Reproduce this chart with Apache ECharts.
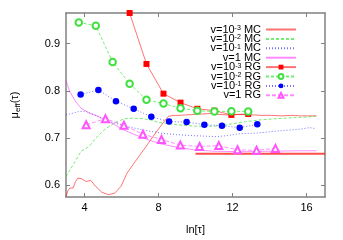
<!DOCTYPE html>
<html><head><meta charset="utf-8">
<script src="https://cdn.jsdelivr.net/npm/echarts@6/dist/echarts.min.js"></script>
<style>html,body{margin:0;padding:0;background:#fff}#c{width:343px;height:240px}</style>
</head><body><div id="c"></div>
<script>
// ---- tick labels ----
const xTicks = [4, 8, 12, 16];
const yTicks = [0.6, 0.7, 0.8, 0.9];

// ---- series names / legend labels ----
const seriesNames = ['v=1e-3 MC','v=1e-2 MC','v=1e-1 MC','v=1 MC','v=1e-3 RG','v=1e-2 RG','v=1e-1 RG','v=1 RG'];
const legendLabels = ['{a|v=10}{s|-3}{a| MC}','{a|v=10}{s|-2}{a| MC}','{a|v=10}{s|-1}{a| MC}','{a|v=1 MC}','{a|v=10}{s|-3}{a| RG}','{a|v=10}{s|-2}{a| RG}','{a|v=10}{s|-1}{a| RG}','{a|v=1 RG}'];

// ---- MC curves ----
const mcRedX = [3.0,3.1,3.21,3.38,3.52,3.64,3.82,4.08,4.34,4.59,4.94,5.29,5.63,5.98,6.29,6.72,7.2,7.7,8.19,8.4,8.54,8.8,9.1,9.5,9.96,10.4,10.83,11.3,11.69,12.1,12.56,13.1,13.6,14.1,14.64,15.2,15.68,16.1,16.54];
const mcRedY = [0.576,0.588,0.594,0.594,0.608,0.615,0.614,0.608,0.610,0.598,0.585,0.580,0.583,0.598,0.625,0.649,0.675,0.703,0.729,0.740,0.746,0.748,0.748,0.749,0.750,0.751,0.752,0.750,0.749,0.750,0.750,0.749,0.748,0.748,0.747,0.748,0.747,0.747,0.747];

const mcGreenX = [3.0,3.21,3.56,3.82,4.25,4.59,5.11,5.63,6.15,6.6,7.16,7.6,8.02,9.0,10.0,11.0,11.7,12.4,13.0,13.6,14.4,15.16,15.8,16.5];
const mcGreenY = [0.618,0.632,0.655,0.672,0.682,0.699,0.719,0.732,0.741,0.742,0.741,0.738,0.733,0.728,0.725,0.725,0.728,0.733,0.736,0.739,0.741,0.743,0.744,0.746];

const mcBlueX = [3.0,3.3,3.69,4.04,4.3,4.56,4.9,5.25,5.7,6.12,6.7,7.33,8.19,9.0,9.92,10.5,11.14,11.7,12.35,13.0,13.74,14.4,15.12,15.7,16.16,16.5];
const mcBlueY = [0.749,0.752,0.756,0.757,0.753,0.749,0.742,0.736,0.731,0.726,0.721,0.716,0.710,0.707,0.705,0.704,0.703,0.705,0.709,0.710,0.712,0.715,0.717,0.719,0.722,0.720];

const mcPinkX = [3.0,3.2,3.52,3.82,4.25,4.66,5.13,5.6,6.13,6.85,7.53,8.2,8.94,9.92,11.0,12.56,14.1,15.68,16.54];
const mcPinkY = [0.8215,0.799,0.777,0.763,0.753,0.747,0.739,0.729,0.717,0.705,0.695,0.687,0.681,0.675,0.672,0.671,0.672,0.673,0.673];

// ---- RG points ----
const rgRedX = [6.44,7.35,8.27,9.19,10.10,11.02,11.94,12.85];
const rgRedY = [0.965,0.857,0.794,0.775,0.762,0.758,0.749,0.751];

const rgGreenX = [3.69,4.61,5.52,6.44,7.35,8.27,9.19,10.10,11.02,11.94,12.85];
const rgGreenY = [0.945,0.938,0.861,0.815,0.781,0.773,0.763,0.758,0.756,0.757,0.756];

const rgBlueX = [3.79,4.75,5.70,6.66,7.61,8.57,9.52,10.48,11.43,12.39,13.34];
const rgBlueY = [0.792,0.802,0.778,0.762,0.745,0.735,0.734,0.728,0.726,0.722,0.729];

const rgPinkX = [4.09,5.13,6.13,7.16,8.16,9.18,10.22,11.26,12.27,13.30,14.32];
const rgPinkY = [0.728,0.741,0.727,0.708,0.697,0.685,0.682,0.684,0.675,0.674,0.678];

// ---- asymptote line ----
const asymX = [10.0, 17.0];
const asymY = [0.6667, 0.6667];

const pairs = (xs, ys) => xs.map((x, i) => [x, ys[i]]);
const FONT = 'Liberation Sans, Arial, sans-serif';
const AXC = '#808080';

function mkAxisX(pos, showLabel) {
  return {
    type: 'value', min: 3, max: 17, position: pos,
    axisLine: { show: true, onZero: false, lineStyle: { color: AXC, width: 1.5 } },
    axisTick: { show: true, inside: true, length: 4, customValues: xTicks, lineStyle: { color: AXC, width: 1 } },
    axisLabel: { show: showLabel, customValues: xTicks, margin: 5, color: '#000', fontSize: 11, fontFamily: FONT },
    splitLine: { show: false },
    name: showLabel ? 'ln[τ]' : '', nameLocation: 'middle', nameGap: 27,
    nameTextStyle: { color: '#000', fontSize: 11, fontFamily: FONT }
  };
}
function mkAxisY(pos, showLabel) {
  return {
    type: 'value', min: 0.575, max: 0.965, position: pos,
    axisLine: { show: true, onZero: false, lineStyle: { color: AXC, width: 1.5 } },
    axisTick: { show: true, inside: true, length: 4, customValues: yTicks, lineStyle: { color: AXC, width: 1 } },
    axisLabel: { show: showLabel, customValues: yTicks, margin: 6, color: '#000', fontSize: 11, fontFamily: FONT,
      formatter: v => v.toFixed(1) },
    splitLine: { show: false },
    name: showLabel ? 'μ{e|eff}(τ)' : '', nameLocation: 'middle', nameGap: 44, nameRotate: 90,
    nameTextStyle: { color: '#000', fontSize: 11, fontFamily: FONT, lineHeight: 14,
      rich: { e: { fontSize: 8, fontFamily: FONT, color: '#000', lineHeight: 9, verticalAlign: 'bottom' } } }
  };
}

const lineS = (color, type, op) => ({ color: color, width: 1, type: type, opacity: op });

const series = [
  { name: seriesNames[0], type: 'line', data: pairs(mcRedX, mcRedY), symbol: 'none', lineStyle: lineS('#ff0000', 'solid', 0.55), itemStyle: { color: '#ff0000' }, z: 2 },
  { name: seriesNames[1], type: 'line', data: pairs(mcGreenX, mcGreenY), symbol: 'none', lineStyle: lineS('#00e000', [3, 2], 0.55), itemStyle: { color: '#00e000' }, z: 2 },
  { name: seriesNames[2], type: 'line', data: pairs(mcBlueX, mcBlueY), symbol: 'none', lineStyle: lineS('#0000ff', [1, 2], 0.55), itemStyle: { color: '#0000ff' }, z: 2 },
  { name: seriesNames[3], type: 'line', data: pairs(mcPinkX, mcPinkY), symbol: 'none', lineStyle: lineS('#ff00ff', 'solid', 0.45), itemStyle: { color: '#ff00ff' }, z: 2 },
  { name: seriesNames[4], type: 'line', data: pairs(rgRedX, rgRedY), symbol: 'rect', symbolSize: 6, clip: false, lineStyle: lineS('#ff0000', 'solid', 0.55), itemStyle: { color: '#ff0000' }, z: 3 },
  { name: seriesNames[5], type: 'line', data: pairs(rgGreenX, rgGreenY), symbol: 'emptyCircle', symbolSize: 6.5, lineStyle: lineS('#00e000', [3, 2], 0.55), itemStyle: { color: '#40e040', borderWidth: 1 }, z: 3 },
  { name: seriesNames[6], type: 'line', data: pairs(rgBlueX, rgBlueY), symbol: 'circle', symbolSize: 6.5, lineStyle: lineS('#0000ff', [1, 2], 0.55), itemStyle: { color: '#0000ff' }, z: 3 },
  { name: seriesNames[7], type: 'line', data: pairs(rgPinkX, rgPinkY), symbol: 'emptyTriangle', symbolSize: 7, lineStyle: lineS('#ff00ff', [4, 2], 0.45), itemStyle: { color: '#ff55ff', borderWidth: 1 }, z: 3 },
  { name: 'asymptote', type: 'line', data: pairs(asymX, asymY), symbol: 'none', lineStyle: { color: '#ff2020', width: 2, opacity: 0.8 }, z: 2, silent: true }
];

const legendData = seriesNames.map((n, i) => i < 4 ? { name: n, itemStyle: { opacity: 0 } } : { name: n });

const chart = echarts.init(document.getElementById('c'), null, { renderer: 'canvas' });
chart.setOption({
  animation: false,
  backgroundColor: '#fff',
  grid: { left: 56, right: 18, top: 13, bottom: 33.3, containLabel: false },
  xAxis: [mkAxisX('bottom', true), mkAxisX('top', false)],
  yAxis: [mkAxisY('left', true), mkAxisY('right', false)],
  legend: {
    orient: 'vertical', right: 46, top: 24, align: 'right', padding: 0, itemGap: -1.6,
    itemWidth: 30, itemHeight: 6, data: legendData, selectedMode: false,
    formatter: n => legendLabels[seriesNames.indexOf(n)],
    textStyle: { fontSize: 11, color: '#000', fontFamily: FONT, lineHeight: 10,
      rich: {
        a: { fontSize: 11, fontFamily: FONT, color: '#000', lineHeight: 10 },
        s: { fontSize: 7, fontFamily: FONT, color: '#000', lineHeight: 7, verticalAlign: 'top' }
      } }
  },
  series: series
});
</script>
</body></html>
